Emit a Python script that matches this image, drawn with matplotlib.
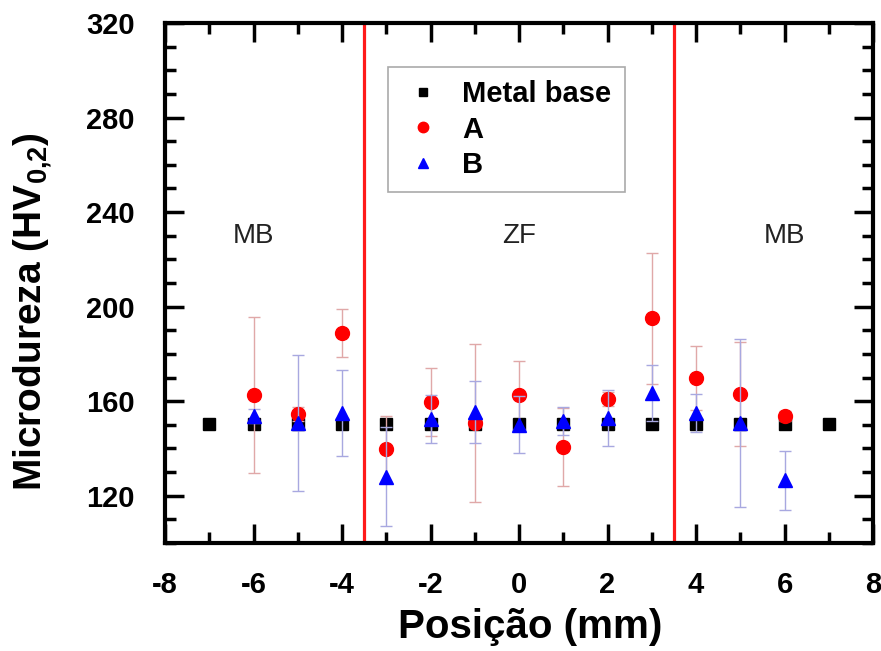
import numpy as np
import matplotlib
matplotlib.use("Agg")
import matplotlib.pyplot as plt
from matplotlib.ticker import MultipleLocator
from matplotlib.lines import Line2D

plt.rcParams["font.family"] = ["Liberation Sans", "DejaVu Sans"]
plt.rcParams["axes.unicode_minus"] = False
plt.rcParams["mathtext.fontset"] = "custom"
plt.rcParams["mathtext.rm"] = "Liberation Sans:bold"
plt.rcParams["mathtext.it"] = "Liberation Sans:bold"
plt.rcParams["mathtext.bf"] = "Liberation Sans:bold"

# Data
pos_base = [-7, -6, -5, -4, -3, -2, -1, 0, 1, 2, 3, 4, 5, 6, 7]
hv_base = [150.5, 150.5, 150.5, 150.5, 150.5, 150.5, 150.5, 150.5, 150.5,
           150.5, 150.5, 150.5, 150.5, 150.5, 150.5]

pos = [-6, -5, -4, -3, -2, -1, 0, 1, 2, 3, 4, 5, 6]
hv_a = [162.5, 154.5, 188.8, 139.8, 159.6, 150.8, 162.6, 140.6, 161.0, 195.0, 169.8, 163.0, 153.7]
err_a = [33.0, 3.0, 10.0, 14.0, 14.5, 33.5, 14.5, 16.5, 3.0, 27.7, 13.5, 22.0, 2.0]
hv_b = [153.7, 150.8, 155.0, 128.0, 152.5, 155.4, 150.0, 151.6, 152.9, 163.5, 155.0, 150.8, 126.6]
err_b = [3.0, 28.7, 18.0, 21.0, 10.0, 13.0, 12.0, 6.0, 12.0, 12.0, 8.0, 35.5, 12.5]

boundaries = [-3.5, 3.5]
regions = ["MB", "ZF", "MB"]
region_x = [-6, 0, 6]

fig = plt.figure(figsize=(8.81, 6.51), dpi=100)
ax = fig.add_axes([0.1873, 0.1659, 0.8037, 0.7988])

for b in boundaries:
    ax.axvline(b, color="#ff1a1a", lw=2.3, zorder=1)

ax.plot(pos_base, hv_base, "s", color="black", ms=8, ls="none", zorder=3)
ax.errorbar(pos, hv_a, yerr=err_a, fmt="o", color="red", ms=10,
            ecolor="#e0a8a8", elinewidth=1, capsize=4, capthick=1, zorder=4)
ax.errorbar(pos, hv_b, yerr=err_b, fmt="^", color="blue", ms=10,
            ecolor="#a8a8e0", elinewidth=1, capsize=4, capthick=1, zorder=5)

for x, t in zip(region_x, regions):
    ax.text(x, 230, t, ha="center", va="center", fontsize=20, color="#222222")

ax.set_xlim(-8, 8)
ax.set_ylim(100, 320)
ax.xaxis.set_major_locator(MultipleLocator(2))
ax.xaxis.set_minor_locator(MultipleLocator(1))
ax.yaxis.set_minor_locator(MultipleLocator(10))
ax.set_yticks([120, 160, 200, 240, 280, 320])
ax.tick_params(which="both", direction="in", top=True, right=True, width=2.5,
               labelsize=21)
ax.tick_params(axis="x", pad=20)
ax.tick_params(axis="y", pad=22)
ax.tick_params(which="major", length=14)
ax.tick_params(which="minor", length=8)
for lab in ax.get_xticklabels() + ax.get_yticklabels():
    lab.set_fontweight("bold")
for s in ax.spines.values():
    s.set_linewidth(3)

ax.set_xlabel("Posição (mm)", fontsize=29, fontweight="bold")
ax.set_ylabel("Microdureza (HV$_{0{,}2}$)", fontsize=28, fontweight="bold")
ax.xaxis.set_label_coords(0.516, -0.125)
ax.yaxis.set_label_coords(-0.155, 0.446)

handles = [
    Line2D([], [], marker="s", color="black", ls="none", ms=6),
    Line2D([], [], marker="o", color="red", ls="none", ms=7.5),
    Line2D([], [], marker="^", color="blue", ls="none", ms=7.5),
]
labels = ["Metal base", "A", "B"]
leg = ax.legend(handles, labels, loc="upper left", bbox_to_anchor=(0.315, 0.915),
                borderaxespad=0, fancybox=False, edgecolor="#aaaaaa", framealpha=1,
                prop={"weight": "bold", "size": 21}, handlelength=1.5,
                handletextpad=0.6, labelspacing=0.25, borderpad=0.45)
leg.get_frame().set_linewidth(1.2)

fig.savefig("out.png", dpi=100)
